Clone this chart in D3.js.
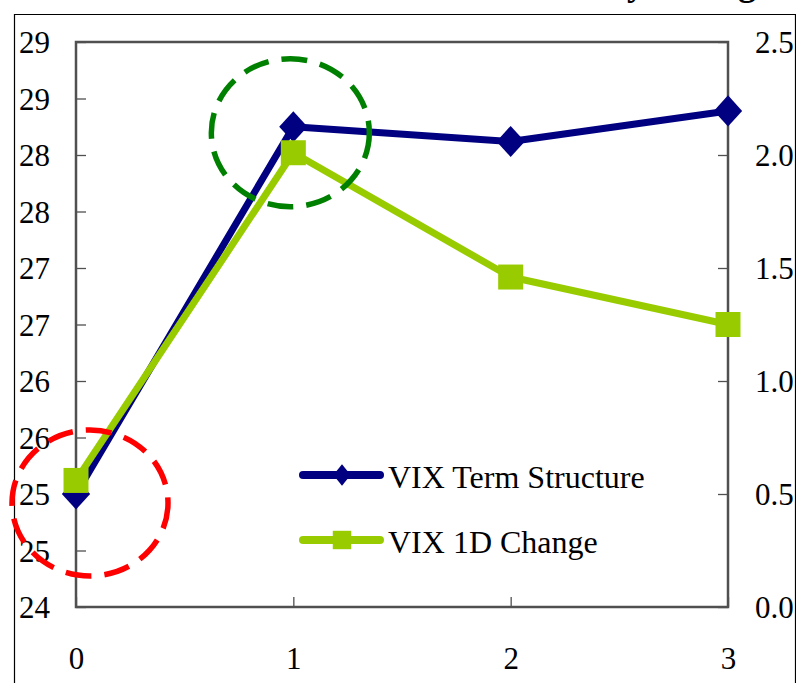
<!DOCTYPE html>
<html><head><meta charset="utf-8">
<script src="https://cdn.jsdelivr.net/npm/d3@7"></script>
<style>html,body{margin:0;padding:0;background:#fff;overflow:hidden}</style>
</head><body><svg id="c" width="796" height="683"></svg>
<script>
// ---- data ----
const categories = [0, 1, 2, 3];
const termStructure = [25.0, 28.25, 28.12, 28.39];
const oneDayChange = [0.56, 2.01, 1.46, 1.25];
const seriesNames = ["VIX Term Structure", "VIX 1D Change"];
const leftTickValues = [24, 24.5, 25, 25.5, 26, 26.5, 27, 27.5, 28, 28.5, 29];
const leftTickLabels = ["24", "25", "25", "26", "26", "27", "27", "28", "28", "29", "29"];
const rightTickValues = [0, 0.5, 1, 1.5, 2, 2.5];
const rightTickLabels = ["0.0", "0.5", "1.0", "1.5", "2.0", "2.5"];
const xTickLabels = ["0", "1", "2", "3"];
const titleText = "VIX Term Structure and Daily Change";

// ---- layout ----
const svg = d3.select("#c");
const W = 796, H = 683;
const plot = {left: 76, right: 728, top: 42, bottom: 607};
const FONT = "'Liberation Serif','Times New Roman',serif";
const NAVY = "#000080", LIME = "#99cc00";

const x = d3.scaleLinear().domain([0, 3]).range([plot.left, plot.right]);
const yL = d3.scaleLinear().domain([24, 29]).range([plot.bottom, plot.top]);
const yR = d3.scaleLinear().domain([0, 2.5]).range([plot.bottom, plot.top]);

// background + outer border
svg.append("rect").attr("width", W).attr("height", H).attr("fill", "#fff");
svg.append("path")
  .attr("d", `M14.5,${H + 5} V14.5 H795.5 V${H + 5}`)
  .attr("fill", "none").attr("stroke", "#000").attr("stroke-width", 1.2);

// title (mostly cut off at the top)
svg.append("text").attr("x", 772).attr("y", -5)
  .attr("text-anchor", "end").attr("font-family", FONT)
  .attr("font-weight", "bold").attr("font-size", 36).text(titleText);

const axisColor = "#505050";
// left axis
const gL = svg.append("g").attr("transform", `translate(${plot.left},0)`)
  .call(d3.axisLeft(yL).tickValues(leftTickValues)
    .tickFormat((d, i) => leftTickLabels[i]).tickSizeInner(-10).tickSizeOuter(0).tickPadding(26));
// right axis
const gR = svg.append("g").attr("transform", `translate(${plot.right},0)`)
  .call(d3.axisRight(yR).tickValues(rightTickValues)
    .tickFormat((d, i) => rightTickLabels[i]).tickSizeInner(-10).tickSizeOuter(0).tickPadding(27));
// bottom axis
const gB = svg.append("g").attr("transform", `translate(0,${plot.bottom})`)
  .call(d3.axisBottom(x).tickValues(categories)
    .tickFormat((d, i) => xTickLabels[i]).tickSizeInner(-10).tickSizeOuter(0).tickPadding(40));

[gL, gR, gB].forEach(g => {
  g.select(".domain").remove();
  g.selectAll(".tick line").attr("stroke", axisColor).attr("stroke-width", 1.3);
  g.selectAll(".tick text").attr("font-family", FONT).attr("font-size", 31).attr("fill", "#000");
});
gL.selectAll(".tick text").attr("dy", "0.34em");
gR.selectAll(".tick text").attr("dy", "0.34em");
gB.selectAll(".tick text").attr("dy", "0.71em");

// frame
svg.append("rect").attr("x", plot.left).attr("y", plot.top)
  .attr("width", plot.right - plot.left).attr("height", plot.bottom - plot.top)
  .attr("fill", "none").attr("stroke", axisColor).attr("stroke-width", 2.5);

// series
const diamond = d3.symbol(d3.symbolSquare, 400);
const square = d3.symbol(d3.symbolSquare, 625);

const lineL = d3.line().x((d, i) => x(categories[i])).y(d => yL(d));
const lineR = d3.line().x((d, i) => x(categories[i])).y(d => yR(d));

svg.append("path").datum(termStructure).attr("d", lineL)
  .attr("fill", "none").attr("stroke", NAVY).attr("stroke-width", 7).attr("stroke-linejoin", "round");
svg.selectAll(".dm").data(termStructure).join("path").attr("class", "dm")
  .attr("d", diamond)
  .attr("transform", (d, i) => `translate(${x(categories[i])},${yL(d)}) scale(1,1.1) rotate(45)`)
  .attr("fill", NAVY);

svg.append("path").datum(oneDayChange).attr("d", lineR)
  .attr("fill", "none").attr("stroke", LIME).attr("stroke-width", 7).attr("stroke-linejoin", "round");
svg.selectAll(".sq").data(oneDayChange).join("path").attr("class", "sq")
  .attr("d", square)
  .attr("transform", (d, i) => `translate(${x(categories[i])},${yR(d)})`)
  .attr("fill", LIME);

// legend
const legend = svg.append("g").attr("transform", "translate(303,475)");
const legItems = [
  {name: seriesNames[0], color: NAVY, sym: d3.symbol(d3.symbolSquare, 150), rot: true},
  {name: seriesNames[1], color: LIME, sym: d3.symbol(d3.symbolSquare, 340), rot: false}
];
legItems.forEach((it, i) => {
  const g = legend.append("g").attr("transform", `translate(0,${i * 65})`);
  g.append("line").attr("x1", 0).attr("x2", 77).attr("y1", 0).attr("y2", 0)
    .attr("stroke", it.color).attr("stroke-width", 8).attr("stroke-linecap", "round");
  g.append("path").attr("d", it.sym())
    .attr("transform", it.rot ? "translate(39,0) scale(1,1.25) rotate(45)" : "translate(39,0)")
    .attr("fill", it.color);
  g.append("text").attr("x", 85).attr("y", 13).attr("font-family", FONT)
    .attr("font-size", 32).attr("fill", "#000").text(it.name);
});

// dashed annotation circles around points 0 and 1
const annotations = [
  {idx: 0, color: "#ff0000", dx: 14, dy: 9, rx: 78, ry: 73},
  {idx: 1, color: "#008000", dx: -3, dy: 6, rx: 79, ry: 74}
];
svg.selectAll(".ann").data(annotations).join("ellipse").attr("class", "ann")
  .attr("cx", a => x(categories[a.idx]) + a.dx)
  .attr("cy", a => yL(termStructure[a.idx]) + a.dy)
  .attr("rx", a => a.rx).attr("ry", a => a.ry)
  .attr("fill", "none").attr("stroke", a => a.color)
  .attr("stroke-width", 5.5).attr("stroke-dasharray", "26,13");
</script>
</body></html>
